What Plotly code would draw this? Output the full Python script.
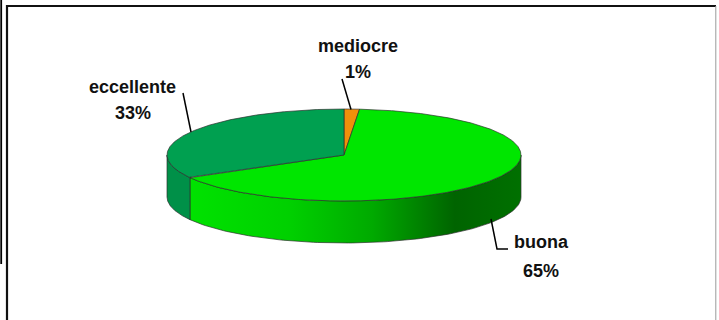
import numpy as np
import plotly.graph_objects as go

# ---- data ----
categories = ["mediocre", "buona", "eccellente"]
values = [1.4, 65.4, 33.2]
top_colors = ["#F0900A", "#00E600", "#00A050"]
side_colors = ["#D07800", None, "#009048"]

# ---- geometry (pixel space) ----
W, H = 719, 320
cx, cy, a, b, depth = 344, 155, 177, 46, 42

def pt(theta_deg, dy=0.0):
    t = np.radians(theta_deg)
    return cx + a * np.sin(t), cy - b * np.cos(t) + dy

total = sum(values)
bounds = np.concatenate([[0], np.cumsum(values) / total * 360])

fig = go.Figure()
edge = dict(color="rgba(45,45,45,0.85)", width=0.8)

# side faces (front half: 90..270 deg)
for i, cat in enumerate(categories):
    t0, t1 = bounds[i], bounds[i + 1]
    s0, s1 = max(t0, 90), min(t1, 270)
    if s1 <= s0:
        continue
    th = np.linspace(s0, s1, 120)
    xt, yt = pt(th)
    xb, yb = pt(th[::-1], depth)
    xs = np.concatenate([xt, xb, [xt[0]]])
    ys = np.concatenate([yt, yb, [yt[0]]])
    kw = {}
    if side_colors[i] is None:
        kw["fillgradient"] = dict(
            type="horizontal",
            colorscale=[[0, "rgb(0,226,0)"], [0.3, "rgb(0,208,0)"],
                        [0.55, "rgb(0,170,0)"], [0.8, "rgb(0,100,0)"],
                        [1, "rgb(0,112,0)"]],
        )
    else:
        kw["fillcolor"] = side_colors[i]
    fig.add_trace(go.Scatter(x=xs, y=ys, mode="lines", fill="toself",
                             line=edge, hoverinfo="skip", showlegend=False, **kw))

# top faces
for i, cat in enumerate(categories):
    t0, t1 = bounds[i], bounds[i + 1]
    th = np.linspace(t0, t1, max(int((t1 - t0) * 2), 4))
    xa, ya = pt(th)
    xs = np.concatenate([[cx], xa, [cx]])
    ys = np.concatenate([[cy], ya, [cy]])
    fig.add_trace(go.Scatter(x=xs, y=ys, mode="lines", fill="toself",
                             fillcolor=top_colors[i], line=edge,
                             hoverinfo="skip", showlegend=False, name=cat))

# labels
label_pos = {
    "mediocre": (358, 46, 72),
    "eccellente": (132.5, 87, 113),
    "buona": (541, 242, 271),
}
font = dict(family="Liberation Sans, Arial, sans-serif", size=18, color="#111111", weight="bold")
for i, cat in enumerate(categories):
    x, y1, y2 = label_pos[cat]
    pct = f"{round(values[i] / total * 100)}%"
    fig.add_annotation(x=x, y=y1, text=cat, showarrow=False, font=font,
                       xanchor="center", yanchor="middle")
    fig.add_annotation(x=x, y=y2, text=pct, showarrow=False, font=font,
                       xanchor="center", yanchor="middle")

# leader lines
leaders = [
    ([342, 351], [79, 109.5]),
    ([183, 191], [93, 132]),
    ([491, 497, 508], [219, 249, 249]),
]
for lx, ly in leaders:
    fig.add_trace(go.Scatter(x=lx, y=ly, mode="lines",
                             line=dict(color="#000000", width=1.5),
                             hoverinfo="skip", showlegend=False))

# frame
shapes = [
    dict(type="line", x0=6, y0=6, x1=716, y1=6, line=dict(color="#111111", width=2.2)),
    dict(type="line", x0=7, y0=5, x1=7, y1=330, line=dict(color="#111111", width=2.2)),
    dict(type="line", x0=715.8, y0=6, x1=715.8, y1=330, line=dict(color="#9a9a9a", width=1)),
    dict(type="line", x0=1.2, y0=0, x1=1.2, y1=264, line=dict(color="#000000", width=1.8)),
]

fig.update_layout(
    width=W, height=H,
    margin=dict(l=0, r=0, t=0, b=0),
    paper_bgcolor="white", plot_bgcolor="white",
    xaxis=dict(range=[0, W], visible=False, fixedrange=True),
    yaxis=dict(range=[H, 0], visible=False, fixedrange=True),
    shapes=shapes,
    showlegend=False,
)

fig.write_html("out.html")
